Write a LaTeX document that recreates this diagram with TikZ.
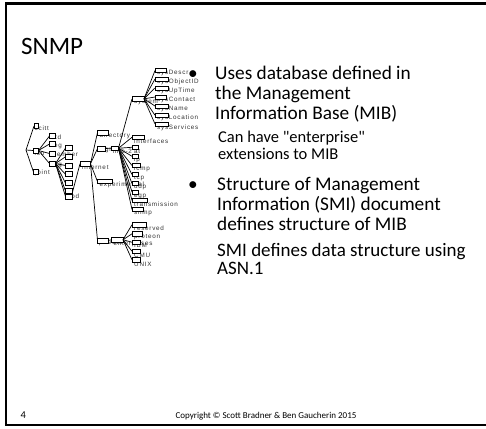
\documentclass[tikz,border=0pt]{standalone}
\usepackage{fontspec}
\setmainfont{Carlito}
\newfontfamily\straightfont{Carlito}[Ligatures=TeXOff]
\newfontfamily\mibfont[LetterSpace=12]{Liberation Sans}

% box of the registration tree: name, x1, y1, x2, y2
\newcommand\treebox[5]{%
  \node[treenode, minimum width={#4-#2}, minimum height={#5-#3}] (#1) at (#2,#3) {};}
% label of a tree box: name, x, y, text
\newcommand\treelabel[4]{%
  \node[treelbl] (#1) at (#2,#3) {#4};}

\tikzset{
  frame/.style={line width=2.4pt},
  treenode/.style={draw, fill=white, line width=0.7pt, inner sep=0pt, outer sep=0pt, anchor=north west},
  treelbl/.style={anchor=west, inner sep=0pt, font=\mibfont\fontsize{6.3}{7}\selectfont, text=black!80},
  link/.style={line width=0.7pt},
  bodytext/.style={anchor=base west, inner sep=0pt, font=\fontsize{19.3}{23}\selectfont},
  subtext/.style={anchor=base west, inner sep=0pt, font=\fontsize{16.5}{20}\selectfont},
  subtextb/.style={anchor=base west, inner sep=0pt, font=\fontsize{19}{22}\selectfont},
}

\begin{document}
\begin{tikzpicture}[x=1pt, y=-1pt]
\useasboundingbox (0,0) rectangle (486,428);

% slide frame
\draw[frame] (488,3.5) -- (6,3.5) -- (6,424.8) -- (488,424.8);

% title
\node[anchor=base west, inner sep=0pt, font=\fontsize{25}{30}\selectfont] (title) at (21,55) {SNMP};

% ---- registration tree: labels first, boxes on top ----
\coordinate (root) at (26,150);
\treelabel{l-ccitt}{34.5}{128.5}{ccitt}
\treelabel{l-iso}{34.5}{153}{iso}
\treelabel{l-joint}{35}{173}{joint}
\treelabel{l-std}{51}{137.5}{std}
\treelabel{l-reg}{51}{146}{reg}
\treelabel{l-mem}{51}{154.5}{member}
\treelabel{l-org}{51}{165.5}{org}
\treelabel{l-dod}{67}{196.5}{dod}
\treelabel{l-internet}{82}{167.5}{internet}
\treelabel{l-directory}{99.5}{135.5}{directory}
\treelabel{l-mgmt}{99}{150.5}{mgmt}
\treelabel{l-exp}{99.5}{185}{experimental}
\treelabel{l-private}{99}{243}{private}
\treelabel{l-mib}{113}{151}{mib-2}
\treelabel{l-system}{134}{102}{system}
\treelabel{l-sysDescr}{157}{73.3}{sysDescr}
\treelabel{l-sysObjectID}{157}{81.7}{sysObjectID}
\treelabel{l-sysUpTime}{157}{91}{sysUpTime}
\treelabel{l-sysContact}{157}{100}{sysContact}
\treelabel{l-sysName}{157}{109}{sysName}
\treelabel{l-sysLocation}{157}{118.3}{sysLocation}
\treelabel{l-sysServices}{157}{127.7}{sysServices}
\treelabel{l-interfaces}{134}{141.5}{interfaces}
\treelabel{l-at}{134}{151}{at}
\treelabel{l-ip}{134}{160}{ip}
\treelabel{l-icmp}{134}{169.3}{icmp}
\treelabel{l-tcp}{134}{178.3}{tcp}
\treelabel{l-udp}{134}{186.7}{udp}
\treelabel{l-egp}{134}{196}{egp}
\treelabel{l-transmission}{134}{204.3}{transmission}
\treelabel{l-snmp}{134}{213.3}{snmp}
\treelabel{l-enterprises}{113.5}{243.5}{enterprises}
\treelabel{l-reserved}{134}{228.3}{reserved}
\treelabel{l-proteon}{134}{236.7}{proteon}
\treelabel{l-ibm}{134}{245.3}{IBM}
\treelabel{l-cmu}{134}{255}{CMU}
\treelabel{l-unix}{134}{264}{UNIX}

\treebox{ccitt}{34}{123.5}{38.5}{128.5}
\treebox{iso}{33.5}{148}{38.5}{153}
\treebox{joint}{33.5}{169.5}{38.5}{174.5}
\treebox{std}{49.5}{133.5}{55.5}{138.5}
\treebox{reg}{49.5}{141.5}{55.5}{146.5}
\treebox{mem}{49.5}{151}{55.5}{156}
\treebox{org}{49.5}{161}{55.5}{166}
\treebox{o1}{65.5}{145.7}{72}{150.5}
\treebox{o2}{65.5}{154.3}{72}{159.2}
\treebox{o3}{65.5}{163}{72}{168}
\treebox{o4}{65.5}{171.8}{72}{176.8}
\treebox{o5}{65.5}{180.5}{72}{185.5}
\treebox{o6}{65.5}{188.5}{72}{193.5}
\treebox{dod}{65.5}{194}{72}{199}
\treebox{internet}{80}{161}{90.5}{166.5}
\treebox{directory}{97.5}{130}{108}{135}
\treebox{mgmt}{97.5}{146}{105}{151}
\treebox{exp}{97.5}{179.5}{112}{183.5}
\treebox{private}{97.5}{238}{108}{243}
\treebox{mib}{111}{146}{118.5}{150.5}
\treebox{system}{132}{96.7}{144}{101}
\treebox{sysDescr}{155}{68.5}{166.5}{72.5}
\treebox{sysObjectID}{155}{77}{168}{81}
\treebox{sysUpTime}{155}{86}{168}{90}
\treebox{sysContact}{155}{95}{166.5}{99}
\treebox{sysName}{155}{104}{168}{108}
\treebox{sysLocation}{155}{113}{168}{117.5}
\treebox{sysServices}{155}{122}{168}{126}
\treebox{interfaces}{132}{135}{144}{139.5}
\treebox{at}{132}{145}{138.5}{149.5}
\treebox{ip}{132}{154}{138.5}{158.5}
\treebox{icmp}{132}{163.5}{140}{167.5}
\treebox{tcp}{132}{172.5}{138.5}{176.5}
\treebox{udp}{132}{181.5}{138.5}{185.5}
\treebox{egp}{132}{190}{138.5}{194}
\treebox{transmission}{132}{198.5}{147.5}{202.5}
\treebox{snmp}{132}{207.5}{143.5}{211.5}
\treebox{enterprises}{111.5}{237.5}{123}{242}
\treebox{reserved}{132}{222.5}{146.5}{227}
\treebox{proteon}{132}{231.5}{142.5}{236}
\treebox{ibm}{132}{240}{140.5}{244.5}
\treebox{cmu}{132}{249}{140.5}{253.5}
\treebox{unix}{132}{257.5}{140}{262}

% connectors
\foreach \c in {ccitt,iso,joint} \draw[link] (root) -- (\c.west);
\foreach \c in {std,reg,mem,org} \draw[link] (iso.east) -- (\c.west);
\foreach \c in {o1,o2,o3,o4,o5,o6,dod} \draw[link] (org.east) -- (\c.west);
\draw[link] (dod.north east) -- (internet.west);
\foreach \c in {directory,mgmt,exp,private} \draw[link] (internet.east) -- (\c.west);
\draw[link] (mgmt.east) -- (mib.west);
\foreach \c in {system,interfaces,at,ip,icmp,tcp,udp,egp,transmission,snmp}
  \draw[link] (mib.east) -- (\c.west);
\foreach \c in {sysDescr,sysObjectID,sysUpTime,sysContact,sysName,sysLocation,sysServices}
  \draw[link] (system.east) -- (\c.west);
\draw[link] (private.east) -- (enterprises.west);
\foreach \c in {reserved,proteon,ibm,cmu,unix} \draw[link] (enterprises.east) -- (\c.west);

% ---- bullet text ----
\node[bodytext] (b1) at (188,79) {•};
\node[bodytext] (t1) at (215,79) {Uses database defined in};
\node[bodytext] (t2) at (215,99) {the Management};
\node[bodytext] (t3) at (215,119) {Information Base (MIB)};
\node[subtext] (s1) at (218,142) {\straightfont Can have "enterprise"};
\node[subtext] (s2) at (218,159) {extensions to MIB};
\node[bodytext] (b2) at (188,190) {•};
\node[bodytext] (t4) at (217,190) {Structure of Management};
\node[bodytext] (t5) at (217,210) {Information (SMI) document};
\node[bodytext] (t6) at (217,230) {defines structure of MIB};
\node[subtextb] (s3) at (217,256) {SMI defines data structure using};
\node[subtextb] (s4) at (217,274) {ASN.1};

% ---- footer ----
\node[anchor=base west, inner sep=0pt, font=\fontsize{10.5}{12}\selectfont] (pagenum) at (20.5,418.5) {4};
\node[anchor=base, inner sep=0pt, font=\fontsize{9}{10}\selectfont] (copy) at (266,418.5) {Copyright © Scott Bradner \& Ben Gaucherin 2015};
\end{tikzpicture}
\end{document}
